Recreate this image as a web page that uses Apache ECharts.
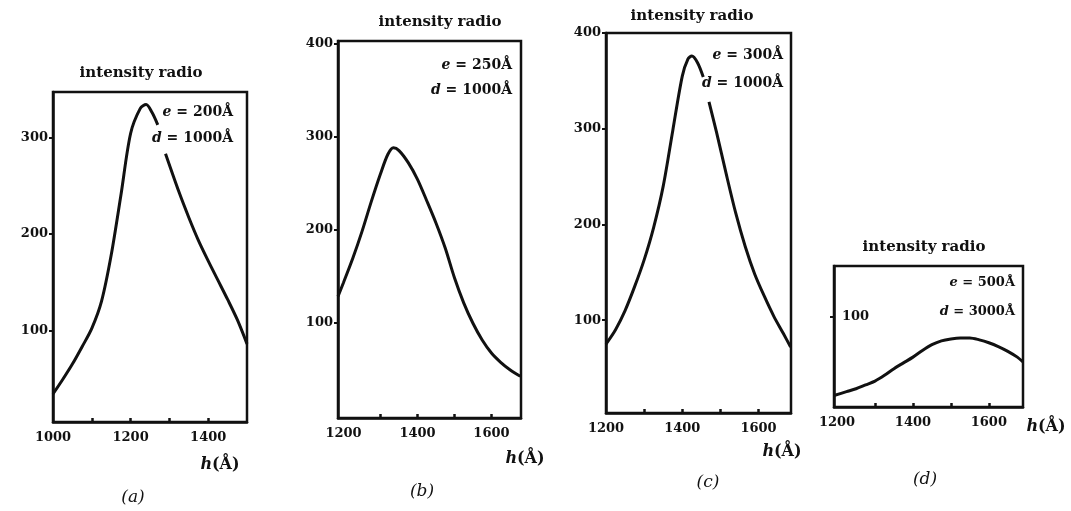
<!DOCTYPE html>
<html>
<head>
<meta charset="utf-8">
<script src="https://cdn.jsdelivr.net/npm/echarts@6/dist/echarts.min.js"></script>
<style>
html, body { margin: 0; padding: 0; background: #fff; }
#main { width: 1071px; height: 511px; }
</style>
</head>
<body>
<div id="main"></div>
<script>
// curve values, null = gap where the label cuts the line
var aX = [1000, 1025, 1050, 1075, 1100, 1125, 1150, 1175, 1200, 1225, 1240, 1255, 1270, 1280, 1290, 1325, 1350, 1375, 1400, 1425, 1450, 1475, 1500];
var aY = [34, 49, 65, 83, 102, 130, 178, 240, 304, 330, 334, 326, 313, null, 283, 243, 217, 193, 172, 152, 132, 111, 86];

var bX = [1185, 1200, 1225, 1250, 1275, 1300, 1320, 1335, 1350, 1375, 1400, 1425, 1450, 1475, 1500, 1525, 1550, 1575, 1600, 1625, 1650, 1678];
var bY = [128, 143, 169, 198, 230, 260, 281, 288, 285, 272, 254, 231, 207, 180, 148, 121, 99, 81, 67, 57, 49, 42];

var cX = [1200, 1225, 1250, 1275, 1300, 1325, 1350, 1375, 1400, 1415, 1425, 1440, 1455, 1462, 1470, 1490, 1515, 1540, 1565, 1590, 1615, 1640, 1665, 1684];
var cY = [75, 90, 110, 135, 163, 197, 240, 298, 355, 373, 376, 369, 354, null, 328, 296, 253, 212, 177, 148, 125, 104, 86, 72];

var dX = [1192, 1225, 1250, 1275, 1300, 1325, 1350, 1375, 1400, 1425, 1450, 1475, 1500, 1525, 1550, 1575, 1600, 1625, 1650, 1675, 1690];
var dY = [18, 22, 25, 29, 33, 39, 46, 52, 58, 65, 71, 75, 77, 78, 78, 76, 73, 69, 64, 58, 53];

// tick labels
var aXLabels = [1000, 1200, 1400];
var aXTicks = [1100, 1200, 1300, 1400];
var aYLabels = [100, 200, 300];
var bXLabels = [1200, 1400, 1600];
var bXTicks = [1300, 1400, 1500, 1600];
var bYLabels = [100, 200, 300, 400];
var cXLabels = [1200, 1400, 1600];
var cXTicks = [1300, 1400, 1500, 1600];
var cYLabels = [100, 200, 300, 400];
var dXLabels = [1200, 1400, 1600];
var dXTicks = [1300, 1400, 1500, 1600];
var dYLabels = [100];

var titleText = 'intensity radio';
var params = [['200', '1000'], ['250', '1000'], ['300', '1000'], ['500', '3000']];

var serif = '"DejaVu Serif", "Liberation Serif", serif';

function pairs(xs, ys) {
    return xs.map(function (x, i) { return [x, ys[i] === null ? '-' : ys[i]]; });
}

function plain(v) { return String(v); }

function xAx(idx, min, max, labels, ticks) {
    return {
        type: 'value', gridIndex: idx, min: min, max: max,
        splitLine: { show: false },
        axisLine: { onZero: false, lineStyle: { color: '#111', width: 2.5 } },
        axisTick: { show: true, inside: true, length: 4, customValues: ticks, lineStyle: { color: '#111', width: 2.5 } },
        axisLabel: { customValues: labels, formatter: plain, margin: 9, color: '#111', fontFamily: serif, fontWeight: 'bold', fontSize: 13 }
    };
}

function yAx(idx, min, max, labels, inside) {
    return {
        type: 'value', gridIndex: idx, min: min, max: max,
        splitLine: { show: false },
        axisLine: { onZero: false, lineStyle: { color: '#111', width: 2.5 } },
        axisTick: { show: true, length: 4, customValues: labels, lineStyle: { color: '#111', width: 2 } },
        axisLabel: { customValues: labels, formatter: plain, inside: !!inside, margin: inside ? 8 : 5, color: '#111', fontFamily: serif, fontWeight: 'bold', fontSize: 13 }
    };
}

function curve(idx, xs, ys) {
    return {
        type: 'line', xAxisIndex: idx, yAxisIndex: idx,
        data: pairs(xs, ys), smooth: 0.3, symbol: 'none', connectNulls: false,
        lineStyle: { color: '#111', width: 3 }
    };
}

function txt(x, y, s, font) {
    return { type: 'text', style: { text: s, x: x, y: y, fill: '#111', font: font, align: 'center', verticalAlign: 'middle' } };
}

function rich(x, y, text, size, align) {
    return {
        type: 'text',
        style: {
            x: x, y: y, align: align, verticalAlign: 'middle', text: text,
            rich: {
                i: { fontFamily: serif, fontStyle: 'italic', fontWeight: 'bold', fontSize: size, fill: '#111' },
                n: { fontFamily: serif, fontWeight: 'bold', fontSize: size, fill: '#111' }
            }
        }
    };
}

function eqn(x, y, letter, val, size) {
    return rich(x, y, '{i|' + letter + '}{n| = ' + val + 'Å}', size, 'right');
}

function hName(x, y) {
    return rich(x, y, '{i|h}{n|(Å)}', 16, 'center');
}

var titleFont = 'bold 15px ' + serif;
var tagFont = 'italic 17px ' + serif;

var chart = echarts.init(document.getElementById('main'));

var boxes = [
    { left: 53, top: 92, width: 194, height: 330 },
    { left: 338, top: 41, width: 183, height: 377 },
    { left: 606, top: 33, width: 185, height: 380 },
    { left: 834, top: 266, width: 189, height: 141 }
];

var graphics = [
    txt(141, 73, titleText, titleFont),
    txt(440, 22, titleText, titleFont),
    txt(692, 16, titleText, titleFont),
    txt(924, 247, titleText, titleFont),
    eqn(233, 112, 'e', params[0][0], 14), eqn(233, 138, 'd', params[0][1], 14),
    eqn(512, 65, 'e', params[1][0], 14), eqn(512, 90, 'd', params[1][1], 14),
    eqn(783, 55, 'e', params[2][0], 14), eqn(783, 83, 'd', params[2][1], 14),
    eqn(1015, 283, 'e', params[3][0], 13), eqn(1015, 312, 'd', params[3][1], 13),
    hName(220, 465), hName(525, 459), hName(782, 452), hName(1046, 427),
    txt(133, 498, '(a)', tagFont),
    txt(422, 492, '(b)', tagFont),
    txt(708, 483, '(c)', tagFont),
    txt(925, 480, '(d)', tagFont)
];

var option = {
    backgroundColor: '#fff',
    animation: false,
    grid: boxes.map(function (b) {
        return { left: b.left, top: b.top, width: b.width, height: b.height, show: true, borderColor: '#111', borderWidth: 2.5, backgroundColor: 'transparent' };
    }),
    xAxis: [
        xAx(0, 1000, 1500, aXLabels, aXTicks),
        xAx(1, 1185, 1680, bXLabels, bXTicks),
        xAx(2, 1200, 1685, cXLabels, cXTicks),
        xAx(3, 1192, 1690, dXLabels, dXTicks)
    ],
    yAxis: [
        yAx(0, 5, 347, aYLabels),
        yAx(1, -3, 403, bYLabels),
        yAx(2, 3, 400, cYLabels),
        yAx(3, 6, 153, dYLabels, true)
    ],
    series: [
        curve(0, aX, aY),
        curve(1, bX, bY),
        curve(2, cX, cY),
        curve(3, dX, dY)
    ],
    graphic: graphics
};

chart.setOption(option);
</script>
</body>
</html>
